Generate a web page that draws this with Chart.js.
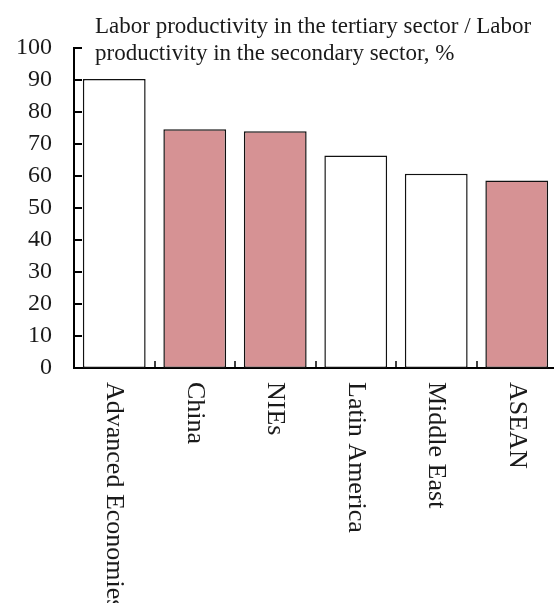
<!DOCTYPE html>
<html>
<head>
<meta charset="utf-8">
<script src="https://cdn.jsdelivr.net/npm/chart.js@4/dist/chart.umd.min.js"></script>
<style>
  html, body { margin: 0; padding: 0; background: #ffffff; overflow: hidden; }
  #wrap { width: 554px; height: 603px; overflow: hidden; }
</style>
</head>
<body>
<div id="wrap"><canvas id="chart" width="560" height="603"></canvas></div>
<script>
// Ratio of tertiary to secondary sector labor productivity, %
const regions = ['Advanced Economies', 'China', 'NIEs', 'Latin America', 'Middle East', 'ASEAN'];
const productivityRatio = [90.3, 74.6, 74.0, 66.4, 60.7, 58.6];
const asianEconomies = ['China', 'NIEs', 'ASEAN'];
const yTicks = [0, 10, 20, 30, 40, 50, 60, 70, 80, 90, 100];
const titleLines = ['Labor productivity in the tertiary sector / Labor', 'productivity in the secondary sector, %'];

const SERIF = '"Liberation Serif", "Times New Roman", serif';
const INK = '#1a1a1a';

// Axis tick marks pointing into the plot, rotated category labels and the title
const decorations = {
  id: 'decorations',
  afterDraw(chart) {
    const ctx = chart.ctx;
    const x = chart.scales.x, y = chart.scales.y;
    const area = chart.chartArea;
    ctx.save();
    ctx.strokeStyle = '#000';
    ctx.lineWidth = 2;
    // y ticks
    yTicks.forEach(v => {
      const py = Math.round(y.getPixelForValue(v));
      ctx.beginPath();
      ctx.moveTo(area.left, py);
      ctx.lineTo(area.left + 8, py);
      ctx.stroke();
    });
    // x ticks between categories
    ctx.lineWidth = 1.5;
    for (let i = 0; i < regions.length - 1; i++) {
      const px = Math.round((x.getPixelForValue(i) + x.getPixelForValue(i + 1)) / 2);
      ctx.beginPath();
      ctx.moveTo(px, area.bottom);
      ctx.lineTo(px, area.bottom - 7);
      ctx.stroke();
    }
    // category labels reading top to bottom
    ctx.fillStyle = INK;
    ctx.font = '26px ' + SERIF;
    ctx.textAlign = 'left';
    ctx.textBaseline = 'middle';
    regions.forEach((name, i) => {
      ctx.save();
      ctx.translate(x.getPixelForValue(i), area.bottom + 14);
      ctx.rotate(Math.PI / 2);
      ctx.fillText(name, 0, 0);
      ctx.restore();
    });
    // title
    ctx.font = '23px ' + SERIF;
    ctx.textBaseline = 'alphabetic';
    titleLines.forEach((line, i) => ctx.fillText(line, 95, 33 + i * 27));
    ctx.restore();
  }
};

new Chart(document.getElementById('chart'), {
  type: 'bar',
  data: {
    labels: regions,
    datasets: [{
      data: productivityRatio,
      backgroundColor: regions.map(r => asianEconomies.includes(r) ? '#d69294' : '#ffffff'),
      borderColor: '#111111',
      borderWidth: 1.5,
      borderSkipped: false,
      barPercentage: 0.78,
      categoryPercentage: 1
    }]
  },
  options: {
    responsive: false,
    animation: false,
    layout: { padding: { top: 48, right: 3, bottom: 0, left: 0 } },
    plugins: { legend: { display: false }, tooltip: { enabled: false }, title: { display: false } },
    scales: {
      x: {
        grid: { display: false, drawTicks: false },
        border: { display: true, color: '#000', width: 2 },
        ticks: { display: false },
        afterFit(scale) { scale.height = 235; }
      },
      y: {
        min: 0, max: 100,
        grid: { display: false, drawTicks: false },
        border: { display: true, color: '#000', width: 2 },
        ticks: {
          stepSize: 10, padding: 22, color: INK,
          font: { family: SERIF, size: 24 }
        },
        afterFit(scale) { scale.width = 74; }
      }
    }
  },
  plugins: [decorations]
});
</script>
</body>
</html>
